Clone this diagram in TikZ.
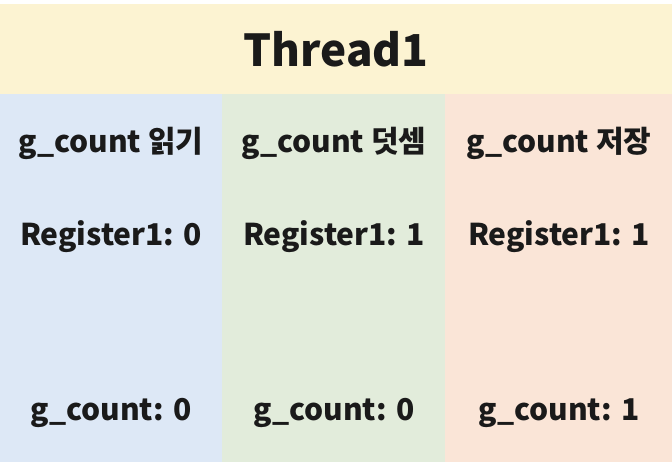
\documentclass[tikz,border=0pt]{standalone}
\usepackage{fontspec}
\newfontfamily\krfont{Noto Sans CJK KR}
\usetikzlibrary{positioning}

\definecolor{thrbg}{RGB}{252,243,210}
\definecolor{readbg}{RGB}{221,232,246}
\definecolor{addbg}{RGB}{226,236,219}
\definecolor{storebg}{RGB}{250,229,215}
\definecolor{ink}{RGB}{26,26,26}

\begin{document}
\begin{tikzpicture}[x=0.75pt,y=-0.75pt,
    every node/.style={inner sep=0pt, outer sep=0pt, text=ink},
    band/.style={anchor=north west, minimum height=276pt},
    lbl/.style={font=\krfont\bfseries\fontsize{22.5}{24}\selectfont},
    ttl/.style={font=\krfont\bfseries\fontsize{33}{35}\selectfont}
  ]
  \useasboundingbox (0,0) rectangle (672,462);

  \node[fill=thrbg, anchor=north west, minimum width=504pt, minimum height=67.5pt] (hdr) at (0,4) {};
  \node[ttl] (title) at (hdr.center) {Thread1};

  \node[band, fill=readbg, minimum width=166.5pt] (c1) at (hdr.south west) {};
  \node[band, fill=addbg, minimum width=167.25pt, right=0pt of c1.north east, anchor=north west] (c2) {};
  \node[band, fill=storebg, minimum width=170.25pt, right=0pt of c2.north east, anchor=north west] (c3) {};

  % step names
  \node[lbl] (rd) at (111,143) {g\_count 읽기};
  \node[lbl] (add) at (334,143) {g\_count 덧셈};
  \node[lbl] (st) at (559,143) {g\_count 저장};

  % register values
  \node[lbl] (reg1) at (111,237) {Register1: 0};
  \node[lbl] (reg2) at (334,237) {Register1: 1};
  \node[lbl] (reg3) at (559,237) {Register1: 1};

  % memory values
  \node[lbl] (gc1) at (111,413) {g\_count: 0};
  \node[lbl] (gc2) at (334,413) {g\_count: 0};
  \node[lbl] (gc3) at (559,413) {g\_count: 1};
\end{tikzpicture}
\end{document}
